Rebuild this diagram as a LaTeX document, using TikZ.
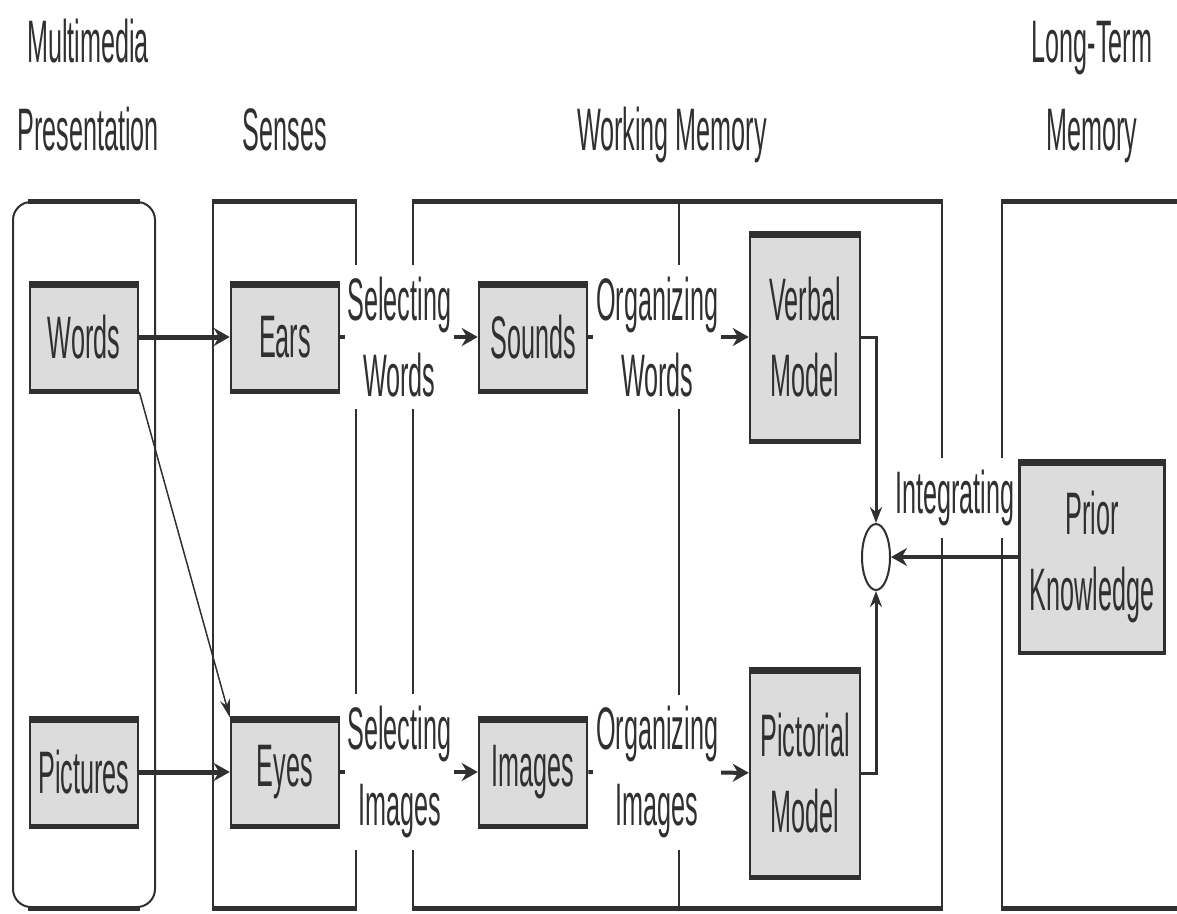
\documentclass[tikz,border=0pt]{standalone}
\usepackage{fontspec}
\setmainfont{Liberation Sans}[FakeStretch=0.42]
\usepackage{tikz}
\usetikzlibrary{
        arrows,
        arrows.meta,
        positioning,
        shapes.geometric
    }
\definecolor{boxgray}{HTML}{DCDCDC}
\definecolor{ink}{HTML}{303030}
\tikzset{>={Stealth[length=16pt,width=18pt]}}

\begin{document}
\begin{tikzpicture}[x=1pt,y=-1pt,ink,font=\fontsize{60}{76}\selectfont]
        \tikzset{frame/.style={draw=ink,line width=2pt,inner sep=0pt,minimum height=705pt,
                    append after command={(\tikzlastnode.north west) edge[line width=5pt] (\tikzlastnode.north east)
                        (\tikzlastnode.south west) edge[line width=5pt] (\tikzlastnode.south east)}},
                 roundframe/.style={draw=ink,line width=2pt,inner sep=0pt,minimum height=705pt,rounded corners=18pt,
                    append after command={(\tikzlastnode.north west) edge[line width=5pt,shorten <=16pt,shorten >=16pt] (\tikzlastnode.north east)
                        (\tikzlastnode.south west) edge[line width=5pt,shorten <=16pt,shorten >=16pt] (\tikzlastnode.south east)}},
                 box/.style={draw=ink,fill=boxgray,line width=2.5pt,inner sep=0pt,align=center,
                    minimum width=108pt,minimum height=107pt,
                    append after command={([yshift=-2pt]\tikzlastnode.north west) edge[line width=7pt] ([yshift=-2pt]\tikzlastnode.north east)
                        (\tikzlastnode.south west) edge[line width=4pt] (\tikzlastnode.south east)}},
                 tallbox/.style={box,minimum width=110pt,minimum height=207pt},
                 head/.style={align=center,font=\fontsize{60}{88}\selectfont},
                 lbl/.style={fill=white,align=center,inner xsep=3pt,inner ysep=12pt},
                 junc/.style={ellipse,draw=ink,fill=white,line width=2pt,inner sep=0pt,
                    minimum width=28pt,minimum height=66pt}}
        \useasboundingbox (0,0) rectangle (1177,913);

        % column frames
        \node[roundframe,minimum width=142pt] (mmframe) at (84,554.5) {};
        \node[frame,minimum width=143pt] (senframe) at (284.5,554.5) {};
        \node[frame,minimum width=529pt] (wmframe) at (677.5,554.5) {};
        \node[frame,minimum width=300pt] (ltmframe) at (1152,554.5) {};
        \draw[line width=2pt] ([xshift=267pt]wmframe.north west) -- ([xshift=267pt]wmframe.south west);

        % headings
        \node[head,anchor=base] (mmhead) at (88,150) {Multimedia\\Presentation};
        \node[head,anchor=base] (senhead) at (285,150) {Senses};
        \node[head,anchor=base] (wmhead) at (672,150) {Working Memory};
        \node[head,anchor=base] (ltmhead) at (1092,150) {Long-Term\\Memory};

        % boxes
        \node[box] (words) at (84,337) {Words};
        \node[box] (ears) [right of=words,node distance=201pt] {Ears};
        \node[box] (sounds) [right of=ears,node distance=248pt] {Sounds};
        \node[tallbox] (verbal) [right of=sounds,node distance=272pt] {Verbal\\Model};
        \node[box] (pictures) [below of=words,node distance=435pt] {Pictures};
        \node[box] (eyes) [below of=ears,node distance=435pt] {Eyes};
        \node[box] (images) [below of=sounds,node distance=435pt] {Images};
        \node[tallbox] (pictorial) [below of=verbal,node distance=436pt] {Pictorial\\Model};
        \node[junc] (junc) at (876,557) {};
        \node[box,minimum width=145pt,minimum height=190pt] (prior) [right of=junc,node distance=216pt] {Prior\\Knowledge};

        \draw[->,line width=5pt] (words) -- (ears);
        \draw[->,line width=5pt] (pictures) -- (eyes);
        \draw[->,line width=1.5pt,>={Stealth[length=18pt,width=10pt]}] (words.south east) -- (eyes.north west);
        \path[->,line width=4pt]
                (ears) edge node[lbl,pos=.43] {Selecting\\Words} (sounds)
                (sounds) edge node[lbl,pos=.43] {Organizing\\Words} (verbal)
                (eyes) edge node[lbl,pos=.43] {Selecting\\Images} (images)
                (images) edge node[lbl,pos=.43] {Organizing\\Images} (pictorial)
                ;
        \draw[->,line width=3pt,>={Stealth[length=16pt,width=12pt]}] (verbal.east) -| (junc.north);
        \draw[->,line width=3pt,>={Stealth[length=16pt,width=12pt]}] (pictorial.east) -| (junc.south);
        \draw[->,line width=4pt] (prior) -- node[lbl,above=17pt,inner ysep=12pt] {Integrating} (junc);
\end{tikzpicture}
\end{document}
